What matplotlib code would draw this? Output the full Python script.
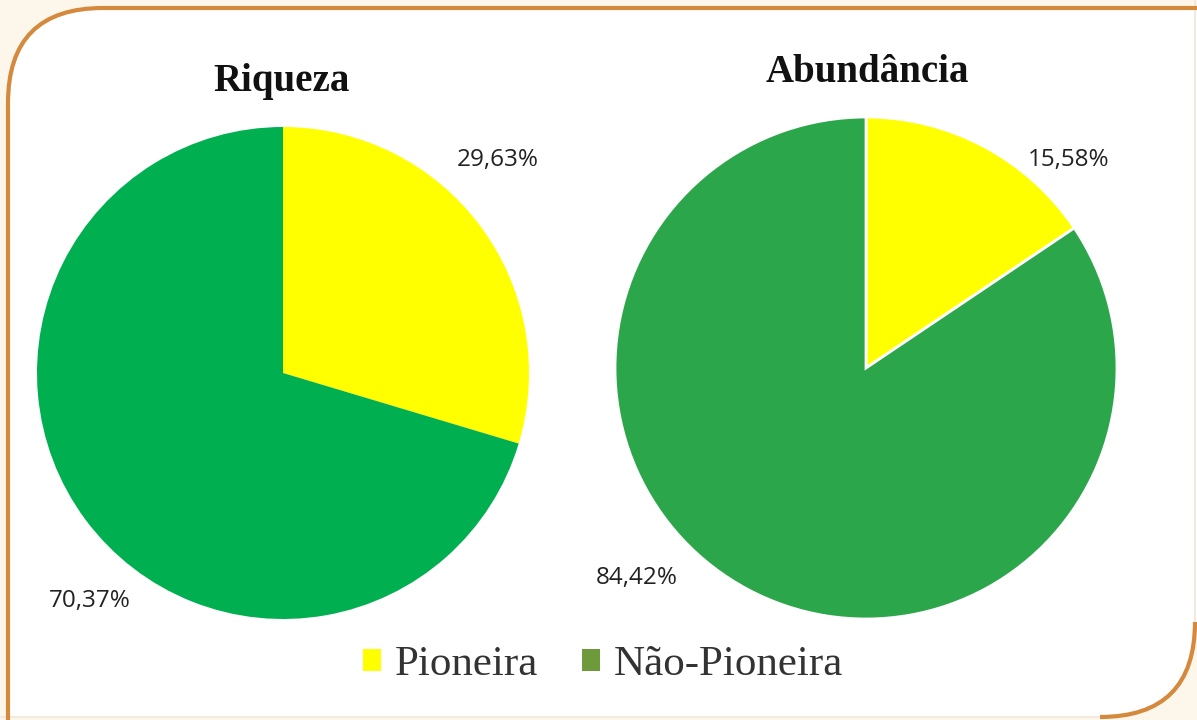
import matplotlib.pyplot as plt
from matplotlib.path import Path
from matplotlib.patches import PathPatch, Patch

# data
groups = ["Riqueza", "Abundância"]
categories = ["Pioneira", "Não-Pioneira"]
riqueza = [29.63, 70.37]
abundancia = [15.58, 84.42]
labels_riqueza = ["29,63%", "70,37%"]
labels_abundancia = ["15,58%", "84,42%"]

W, H = 1197, 720
fig = plt.figure(figsize=(W / 100, H / 100), dpi=100)
fig.patch.set_facecolor("#fdf6ea")
ax = fig.add_axes([0, 0, 1, 1])


def fy(y):
    # image row -> axes y
    return H - y


orange = "#d4893c"
r1, r2 = 95, 95
x0, y0, x1, y1 = 8, 8, 1195, 717

# white panel with rounded top-left / bottom-right corners
fill_verts = [
    (x0 + r1, fy(y0)), (W + 5, fy(y0)), (W + 5, fy(y1 - r2)),
    (x1, fy(y1 - r2)), (x1, fy(y1)), (x1 - r2, fy(y1)),
    (x0, fy(y1)), (x0, fy(y0 + r1)), (x0, fy(y0)), (x0 + r1, fy(y0)),
]
fill_codes = [Path.MOVETO, Path.LINETO, Path.LINETO,
              Path.LINETO, Path.CURVE3, Path.CURVE3,
              Path.LINETO, Path.LINETO, Path.CURVE3, Path.CURVE3]
ax.add_patch(PathPatch(Path(fill_verts, fill_codes), facecolor="white",
                       edgecolor="none", zorder=0))
# faint outline on right and bottom
faint_verts = [(x1, fy(-5)), (x1, fy(y1 - r2)), (x1 - r2, fy(y1)), (-5, fy(y1))]
faint_codes = [Path.MOVETO, Path.LINETO, Path.MOVETO, Path.LINETO]
ax.add_patch(PathPatch(Path(faint_verts, faint_codes), facecolor="none",
                       edgecolor="#f1e6d8", lw=1.2, zorder=1))
# orange top + left with rounded corner
line_verts = [(W + 5, fy(y0)), (x0 + r1, fy(y0)), (x0, fy(y0)), (x0, fy(y0 + r1)), (x0, fy(H + 5))]
line_codes = [Path.MOVETO, Path.LINETO, Path.CURVE3, Path.CURVE3, Path.LINETO]
ax.add_patch(PathPatch(Path(line_verts, line_codes), facecolor="none",
                       edgecolor=orange, lw=3, zorder=1))
# orange bottom-right corner
br_verts = [(x1, fy(y1 - r2)), (x1, fy(y1)), (x1 - r2, fy(y1))]
br_codes = [Path.MOVETO, Path.CURVE3, Path.CURVE3]
ax.add_patch(PathPatch(Path(br_verts, br_codes), facecolor="none",
                       edgecolor=orange, lw=3, zorder=1))

yellow = "#ffff00"

# left pie
ax.pie(riqueza, colors=[yellow, "#00b050"], startangle=90, counterclock=False,
       center=(283, fy(373)), radius=246, frame=True,
       wedgeprops=dict(edgecolor="none"))
# right pie
ax.pie(abundancia, colors=[yellow, "#2ba64a"], startangle=90, counterclock=False,
       center=(866, fy(368)), radius=251, frame=True,
       wedgeprops=dict(edgecolor="white", linewidth=2))
ax.set_xlim(0, W)
ax.set_ylim(0, H)
ax.set_aspect("equal")
ax.axis("off")

lab_font = dict(family="Open Sans", fontsize=17.5, color="#222222", ha="center", va="center")
ax.text(498, fy(160), labels_riqueza[0], **lab_font)
ax.text(90, fy(601), labels_riqueza[1], **lab_font)
ax.text(1069, fy(160), labels_abundancia[0], **lab_font)
ax.text(637, fy(578), labels_abundancia[1], **lab_font)

title_font = dict(family="Liberation Serif", fontsize=28, fontweight="bold",
                  color="#111111", ha="center", va="center")
ax.text(282, fy(82), groups[0], **title_font)
ax.text(867, fy(72), groups[1], **title_font)

handles = [Patch(facecolor=yellow, edgecolor="none"),
           Patch(facecolor="#6e9a3c", edgecolor="none")]
leg = ax.legend(handles, categories, loc="center", bbox_to_anchor=(603 / W, 1 - 665 / H),
                ncol=2, frameon=False, handlelength=0.42, handleheight=0.42,
                handletextpad=0.32, columnspacing=1.0,
                prop={"family": "Liberation Serif", "size": 31})
for t in leg.get_texts():
    t.set_color("#333333")

fig.savefig("out.png", dpi=100, facecolor=fig.get_facecolor())
